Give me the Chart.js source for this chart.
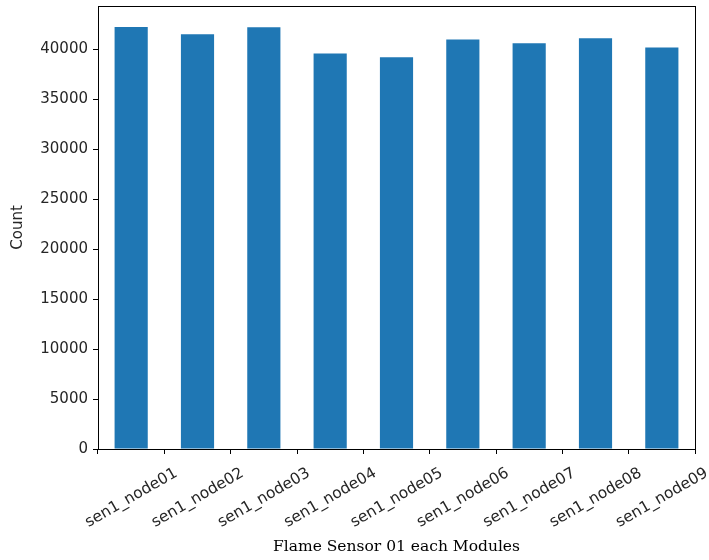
<!DOCTYPE html>
<html>
<head>
<meta charset="utf-8">
<script src="https://cdn.jsdelivr.net/npm/chart.js@4"></script>
<style>
  html, body { margin: 0; padding: 0; background: #fff; }
  #wrap { width: 709px; height: 560px; }
</style>
</head>
<body>
<div id="wrap"><canvas id="flameChart" width="709" height="560"></canvas></div>
<script>
// Flame sensor 01 record counts per module
const nodes = [
  "sen1_node01", "sen1_node02", "sen1_node03", "sen1_node04", "sen1_node05",
  "sen1_node06", "sen1_node07", "sen1_node08", "sen1_node09",
];
const counts = [42200, 41480, 42180, 39550, 39180, 40950, 40580, 41080, 40150];
const yTicks = [0, 5000, 10000, 15000, 20000, 25000, 30000, 35000, 40000];

// matplotlib style margin above the tallest bar
const yMax = Math.max(...counts) * 1.05;

// Full box around the plot area
const frameBox = {
  id: "frameBox",
  afterDraw(chart) {
    const { ctx, chartArea } = chart;
    ctx.save();
    ctx.strokeStyle = "#000";
    ctx.lineWidth = 1;
    ctx.strokeRect(
      Math.round(chartArea.left) + 0.5,
      Math.round(chartArea.top) + 0.5,
      Math.round(chartArea.right - chartArea.left),
      Math.round(chartArea.bottom - chartArea.top)
    );
    ctx.restore();
  },
};

const ctx = document.getElementById("flameChart");

new Chart(ctx, {
  type: "bar",
  data: {
    labels: nodes,
    datasets: [
      {
        label: "Count",
        data: counts,
        backgroundColor: "#1f77b4",
        borderWidth: 0,
        barPercentage: 0.5,
        categoryPercentage: 1.0,
      },
    ],
  },
  options: {
    responsive: false,
    animation: false,
    devicePixelRatio: 1,
    layout: {
      padding: { top: 6, right: 14, bottom: 0, left: 0 },
    },
    plugins: {
      legend: { display: false },
      tooltip: { enabled: false },
    },
    scales: {
      x: {
        offset: true,
        grid: {
          display: true,
          drawOnChartArea: false,
          drawTicks: true,
          tickLength: 5,
          color: "#000",
        },
        border: { display: true, color: "#000", width: 1 },
        ticks: {
          autoSkip: false,
          minRotation: 30,
          maxRotation: 30,
          padding: 10,
          labelOffset: 45,
          color: "#262626",
          font: { family: "DejaVu Sans", size: 15.5 },
        },
        title: {
          display: true,
          text: "Flame Sensor 01 each Modules",
          color: "#000",
          font: { family: "DejaVu Serif", size: 15.5 },
          padding: { top: 0, bottom: 4 },
        },
        afterFit(scale) {
          scale.height = 111;
          scale.paddingLeft = 0;
          scale.paddingRight = 0;
        },
      },
      y: {
        min: 0,
        max: yMax,
        grid: {
          display: true,
          drawOnChartArea: false,
          drawTicks: true,
          tickLength: 5,
          color: "#000",
        },
        border: { display: true, color: "#000", width: 1 },
        afterBuildTicks(scale) {
          scale.ticks = yTicks.map((v) => ({ value: v }));
        },
        ticks: {
          padding: 5,
          color: "#262626",
          font: { family: "DejaVu Sans", size: 15 },
          callback: (value) => String(value),
        },
        title: {
          display: true,
          text: "Count",
          color: "#262626",
          font: { family: "DejaVu Sans", size: 15 },
          padding: { top: 9, bottom: 0 },
        },
        afterFit(scale) {
          scale.width = 98;
          scale.paddingTop = 0;
          scale.paddingBottom = 0;
        },
      },
    },
  },
  plugins: [frameBox],
});
</script>
</body>
</html>
